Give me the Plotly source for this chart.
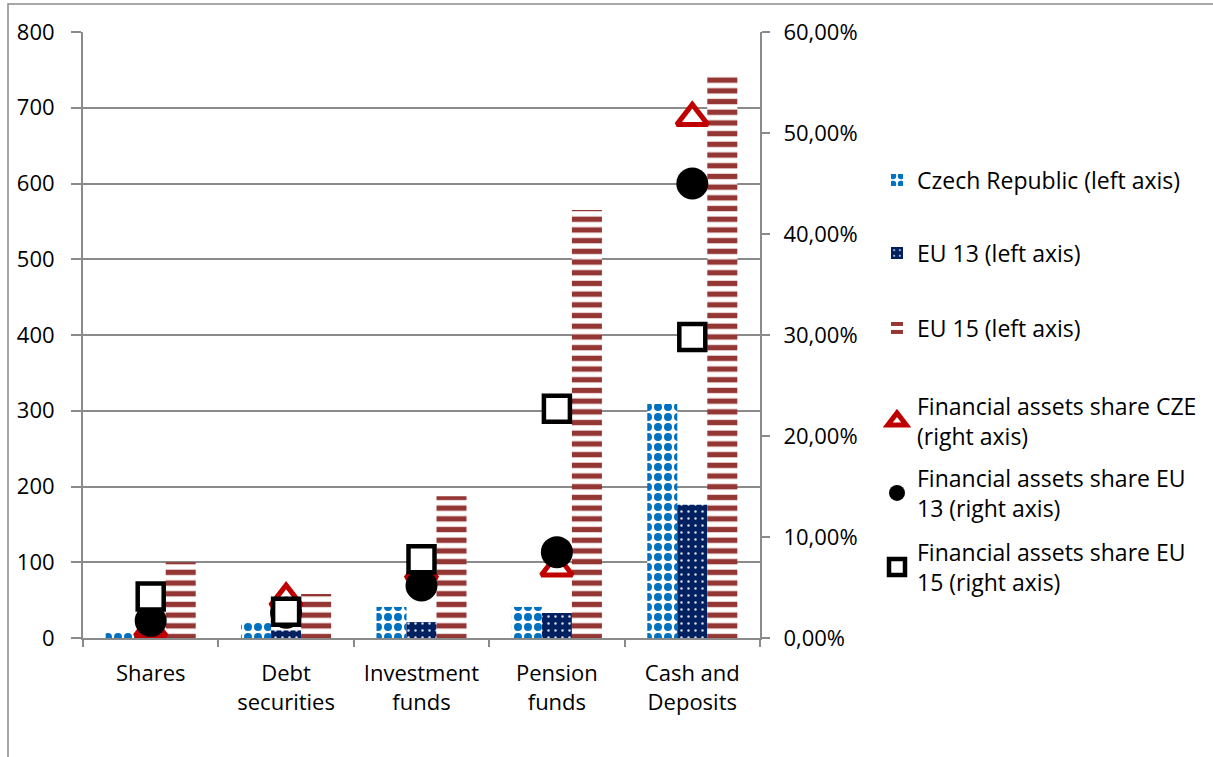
import plotly.graph_objects as go

categories = ["Shares", "Debt<br>securities", "Investment<br>funds", "Pension<br>funds", "Cash and<br>Deposits"]
cz_values = [7, 21, 41, 41, 309]
eu13_values = [3, 10, 21, 33, 176]
eu15_values = [100, 58, 187, 565, 742]
share_cze = [0.009, 0.039, 0.066, 0.069, 0.515]
share_eu13 = [0.017, 0.025, 0.052, 0.085, 0.450]
share_eu15 = [0.041, 0.026, 0.078, 0.227, 0.298]

W, H = 1213, 757
PL, PR, PT, PB = 83, 760, 32, 638  # plot area in screen pixels
ML, MT = PL, PT
MR, MB = W - PR, H - PB
PW, PH = PR - PL, PB - PT
FONT = "Open Sans"
FS = 22
GRID = "#8a8a8a"


def px_x(x):
    return (x - PL) / PW


def px_y(y):
    return (PB - y) / PH


fig = go.Figure()
fig.add_trace(go.Bar(
    x=categories, y=cz_values, name="Czech Republic (left axis)",
    marker=dict(color="white", line=dict(width=0),
                pattern=dict(shape=".", fgcolor="#0070C0", bgcolor="white", size=10, solidity=0.5, fillmode="replace")),
    legend="legend"))
fig.add_trace(go.Bar(
    x=categories, y=eu13_values, name="EU 13 (left axis)",
    marker=dict(color="#002060", line=dict(width=0),
                pattern=dict(shape=".", fgcolor="#d8dcea", bgcolor="#002060", size=7, solidity=0.1, fillmode="replace")),
    legend="legend2"))
fig.add_trace(go.Bar(
    x=categories, y=eu15_values, name="EU 15 (left axis)",
    marker=dict(color="white", line=dict(width=0),
                pattern=dict(shape="-", fgcolor="#943634", bgcolor="white", size=10.7, solidity=0.5, fillmode="replace")),
    legend="legend3"))
fig.add_trace(go.Scatter(
    x=categories, y=share_cze, yaxis="y2", mode="markers",
    name="Financial assets share CZE<br>(right axis)",
    marker=dict(symbol="triangle-up", size=27, color="white", line=dict(color="#C00000", width=5)),
    legend="legend4"))
fig.add_trace(go.Scatter(
    x=categories, y=share_eu13, yaxis="y2", mode="markers",
    name="Financial assets share EU<br>13 (right axis)",
    marker=dict(symbol="circle", size=32, color="black", line=dict(color="black", width=0)),
    legend="legend5"))
fig.add_trace(go.Scatter(
    x=categories, y=share_eu15, yaxis="y2", mode="markers",
    name="Financial assets share EU<br>15 (right axis)",
    marker=dict(symbol="square", size=26, color="white", line=dict(color="black", width=4.5)),
    legend="legend6"))

legend_y = [180, 253, 328, 421, 493, 567]
legend_common = dict(x=px_x(877), xanchor="left", yanchor="middle",
                     font=dict(family=FONT, size=23, color="black"),
                     bgcolor="rgba(0,0,0,0)", borderwidth=0)
legends = {}
for i, yy in enumerate(legend_y):
    key = "legend" if i == 0 else f"legend{i + 1}"
    legends[key] = dict(legend_common, y=px_y(yy))

tickfont = dict(family=FONT, size=FS, color="black")
fig.update_layout(
    width=W, height=H,
    margin=dict(l=ML, r=MR, t=MT, b=MB, pad=0, autoexpand=False),
    paper_bgcolor="white", plot_bgcolor="white",
    font=dict(family=FONT, size=FS, color="black"),
    separators=",.",
    barmode="group", bargap=0.335, bargroupgap=0,
    showlegend=True,
    xaxis=dict(showline=True, linecolor=GRID, linewidth=2, ticks="outside", tickson="boundaries",
               ticklen=7, tickcolor=GRID, tickwidth=2, showgrid=False,
               tickfont=tickfont, ticklabelstandoff=15),
    yaxis=dict(range=[0, 800], dtick=100, showline=True, linecolor=GRID, linewidth=2,
               ticks="outside", ticklen=10, tickcolor=GRID, tickwidth=2,
               showgrid=True, gridcolor=GRID, gridwidth=2, zeroline=False,
               tickfont=tickfont, ticklabelstandoff=12),
    yaxis2=dict(range=[0, 0.6], dtick=0.1, tickformat=".2%", overlaying="y", side="right",
                showline=True, linecolor=GRID, linewidth=2, ticks="outside", ticklen=8,
                tickcolor=GRID, tickwidth=2, showgrid=False, zeroline=False,
                tickfont=tickfont, ticklabelstandoff=9),
    shapes=[dict(type="rect", xref="paper", yref="paper",
                 x0=px_x(8), x1=px_x(W + 20), y0=px_y(H + 20), y1=px_y(4),
                 line=dict(color=GRID, width=1.5), fillcolor="rgba(0,0,0,0)", layer="below")],
    **legends,
)

fig.write_html("out.html", config={"displayModeBar": False},
               post_script="document.body.style.margin='0';")
